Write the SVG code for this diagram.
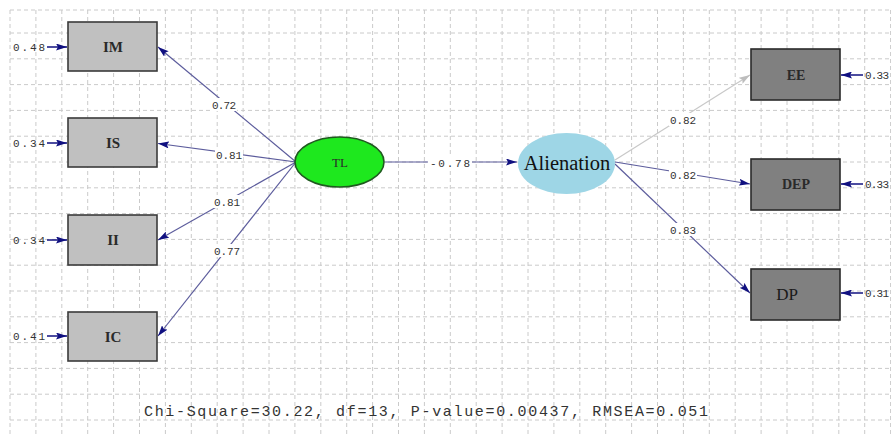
<svg xmlns="http://www.w3.org/2000/svg" width="891" height="437" viewBox="0 0 891 437">
<defs>
<style>
.grid{stroke:#cacaca;stroke-width:1;stroke-dasharray:4 3;fill:none}
.box{fill:#c0c0c0;stroke:#3a3a3a;stroke-width:1.6}
.dbox{fill:#808080;stroke:#2a2a2a;stroke-width:1.6}
.lbl{font-family:"Liberation Serif",serif;fill:#2a2a2a;text-anchor:middle;font-weight:bold}
.num{font-family:"Liberation Mono",monospace;font-size:11px;fill:#333}
.conn{stroke:#5c5c9c;stroke-width:1.2;fill:none;marker-end:url(#ah)}
.err{stroke:#101080;stroke-width:1.5;fill:none;marker-end:url(#ah)}
.bg{fill:#fff}
</style>
<marker id="ah" markerUnits="userSpaceOnUse" markerWidth="11" markerHeight="7" refX="11" refY="3.5" orient="auto">
<path d="M0,0 L11,3.5 L0,7 L2,3.5 z" fill="#101080"/>
</marker>
<marker id="ahg" markerUnits="userSpaceOnUse" markerWidth="11" markerHeight="7" refX="11" refY="3.5" orient="auto">
<path d="M0,0 L11,3.5 L0,7 L2,3.5 z" fill="#bdbdbd"/>
</marker>
</defs>
<rect width="891" height="437" fill="#fff"/>
<g id="grid">
<path class="grid" d="M10,10V437M35.9,10V437M61.8,10V437M87.7,10V437M113.6,10V437M139.5,10V437M165.4,10V437M191.3,10V437M217.2,10V437M243.1,10V437M269,10V437M294.9,10V437M320.8,10V437M346.7,10V437M372.6,10V437M398.5,10V437M424.4,10V437M450.3,10V437M476.2,10V437M502.1,10V437M528,10V437M553.9,10V437M579.8,10V437M605.7,10V437M631.6,10V437M657.5,10V437M683.4,10V437M709.3,10V437M735.2,10V437M761.1,10V437M787,10V437M812.9,10V437M838.8,10V437M864.7,10V437M890.6,10V437"/>
<path class="grid" d="M10,10H891M10,33H891M10,58.8H891M10,84.6H891M10,110.4H891M10,136.2H891M10,162H891M10,187.8H891M10,213.6H891M10,239.4H891M10,265.2H891M10,291H891M10,316.8H891M10,342.6H891M10,368.4H891M10,394.2H891M10,420H891"/>
</g>
<g id="connectors">
<path class="conn" d="M296,162 L158,47"/>
<path class="conn" d="M296,162 L158,143.5"/>
<path class="conn" d="M296,162 L158,240"/>
<path class="conn" d="M296,162 L158,336"/>
<path class="conn" d="M385,162 L517,162"/>
<path d="M615,160 L750,75" stroke="#c8c8c8" stroke-width="1.2" fill="none" marker-end="url(#ahg)"/>
<path class="conn" d="M615,162 L750,184"/>
<path class="conn" d="M615,164 L750,293"/>
<path class="err" d="M47,47 L67,47"/>
<path class="err" d="M47,143 L67,143"/>
<path class="err" d="M47,240 L67,240"/>
<path class="err" d="M47,336 L67,336"/>
<path class="err" d="M863,75 L841,75"/>
<path class="err" d="M863,184 L841,184"/>
<path class="err" d="M863,293 L841,293"/>
<rect class="bg" x="211" y="98" width="26" height="13"/>
<rect class="bg" x="215" y="148" width="28" height="13"/>
<rect class="bg" x="213" y="195" width="28" height="13"/>
<rect class="bg" x="213" y="244" width="28" height="13"/>
<rect class="bg" x="428" y="156" width="44" height="13"/>
<rect class="bg" x="669" y="113" width="28" height="13"/>
<rect class="bg" x="669" y="168" width="28" height="13"/>
<rect class="bg" x="669" y="223" width="28" height="13"/>
<text class="num" x="212" y="109" textLength="24">0.72</text>
<text class="num" x="216" y="159" textLength="26">0.81</text>
<text class="num" x="214" y="206" textLength="26">0.81</text>
<text class="num" x="214" y="255" textLength="26">0.77</text>
<text class="num" x="430" y="167" textLength="40">-0.78</text>
<text class="num" x="670" y="124" textLength="26" fill="#555">0.82</text>
<text class="num" x="670" y="179" textLength="26">0.82</text>
<text class="num" x="670" y="234" textLength="26">0.83</text>
<text class="num" x="13" y="51" textLength="32">0.48</text>
<text class="num" x="13" y="147" textLength="32">0.34</text>
<text class="num" x="13" y="244" textLength="32">0.34</text>
<text class="num" x="13" y="340" textLength="32">0.41</text>
<text class="num" x="865" y="79" font-size="10" textLength="24">0.33</text>
<text class="num" x="865" y="188" font-size="10" textLength="24">0.33</text>
<text class="num" x="865" y="297" font-size="10" textLength="24">0.31</text>
</g>
<g id="IM"><rect class="box" x="68" y="22" width="89" height="49"/><text class="lbl" x="113" y="52" font-size="15">IM</text></g>
<g id="IS"><rect class="box" x="68" y="118" width="89" height="49"/><text class="lbl" x="113" y="148" font-size="15">IS</text></g>
<g id="II"><rect class="box" x="68" y="215" width="89" height="50"/><text class="lbl" x="113" y="245" font-size="15">II</text></g>
<g id="IC"><rect class="box" x="68" y="312" width="89" height="49"/><text class="lbl" x="113" y="342" font-size="15">IC</text></g>
<g id="TL"><ellipse cx="339.5" cy="162" rx="44.5" ry="25" fill="#1ee81e" stroke="#1f5a1f" stroke-width="1.6"/><text class="lbl" x="340" y="167" font-size="13" style="font-weight:normal">TL</text></g>
<g id="Alienation"><ellipse cx="566.5" cy="163.5" rx="48.5" ry="30.5" fill="#9ed6e6"/><text x="567" y="170" font-family="'Liberation Serif',serif" font-size="20.5" fill="#111" text-anchor="middle">Alienation</text></g>
<g id="EE"><rect class="dbox" x="751" y="49" width="89" height="51"/><text class="lbl" x="796" y="80" font-size="14">EE</text></g>
<g id="DEP"><rect class="dbox" x="751" y="159" width="89" height="51"/><text class="lbl" x="796" y="189" font-size="14">DEP</text></g>
<g id="DP"><rect class="dbox" x="751" y="269" width="89" height="51"/><text x="787" y="300" font-family="'Liberation Serif',serif" font-size="17" fill="#1a1a1a" text-anchor="middle">DP</text></g>
<text x="144" y="416" font-family="'Liberation Mono',monospace" font-size="15" fill="#333" textLength="564">Chi-Square=30.22, df=13, P-value=0.00437, RMSEA=0.051</text>
</svg>
